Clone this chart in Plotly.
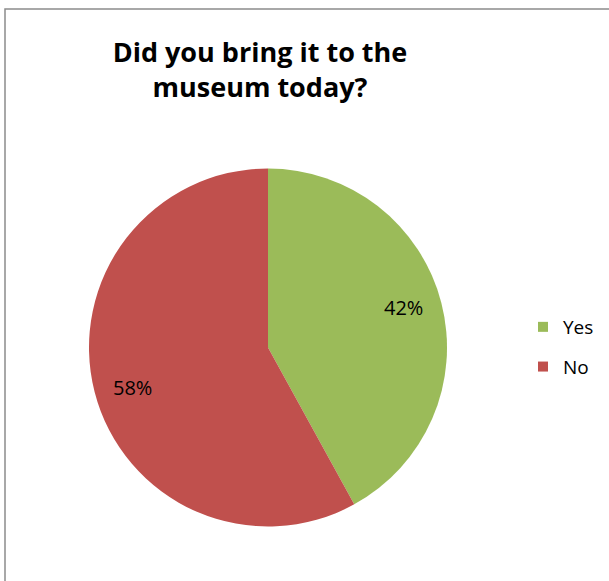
import math
import plotly.graph_objects as go

labels = ["Yes", "No"]
values = [42, 58]
colors = ["#9BBB59", "#C0504D"]
title_text = "Did you bring it to the<br>museum today?"

W, H = 609, 581
cx_px, cy_px, r_px = 268, 347.5, 179
label_r = 0.79
label_angle_shift = -1.9  # degrees

fig = go.Figure()
fig.add_trace(go.Pie(
    labels=labels, values=values, sort=False, direction="clockwise", rotation=0,
    marker=dict(colors=colors, line=dict(width=0)),
    textinfo="none", hoverinfo="label+percent", showlegend=False,
    domain=dict(x=[(cx_px - r_px) / W, (cx_px + r_px) / W],
                y=[1 - (cy_px + r_px) / H, 1 - (cy_px - r_px) / H]),
))

# legend entries
for lab, col in zip(labels, colors):
    fig.add_trace(go.Scatter(x=[None], y=[None], mode="markers", name=lab,
                             legendgroup=lab,
                             marker=dict(symbol="square", size=10, color=col)))

# data labels computed from values
annotations = []
total = sum(values)
cum = 0
for v in values:
    mid = (cum + v / 2) / total * 2 * math.pi + math.radians(label_angle_shift)
    cum += v
    x = cx_px + label_r * r_px * math.sin(mid)
    y = cy_px - label_r * r_px * math.cos(mid)
    annotations.append(dict(x=x / W, y=1 - y / H, xref="paper", yref="paper",
                            xanchor="center", yanchor="middle",
                            text=f"{round(v / total * 100)}%", showarrow=False,
                            font=dict(size=20, color="#000000", family="Open Sans")))

fig.update_layout(
    width=W, height=H,
    margin=dict(l=0, r=0, t=0, b=0),
    paper_bgcolor="white", plot_bgcolor="white",
    xaxis=dict(visible=False), yaxis=dict(visible=False),
    title=dict(text=f"<b>{title_text}</b>", x=260 / W, xanchor="center",
               y=1 - 62 / H, yanchor="top", yref="container",
               font=dict(size=27, color="#000000", family="Open Sans")),
    legend=dict(x=523 / W, y=1 - 308 / H, xanchor="left", yanchor="top",
                font=dict(size=19, color="#000000", family="Open Sans"),
                tracegroupgap=12, bgcolor="rgba(0,0,0,0)"),
    annotations=annotations,
    shapes=[dict(type="rect", xref="paper", yref="paper",
                 x0=5 / W, x1=1.05, y0=-0.05, y1=1 - 9 / H,
                 line=dict(color="#8C8C8C", width=1.5))],
)

fig.write_html("out.html", config={"displayModeBar": False},
               post_script="document.body.style.margin='0';document.body.style.padding='0';")
